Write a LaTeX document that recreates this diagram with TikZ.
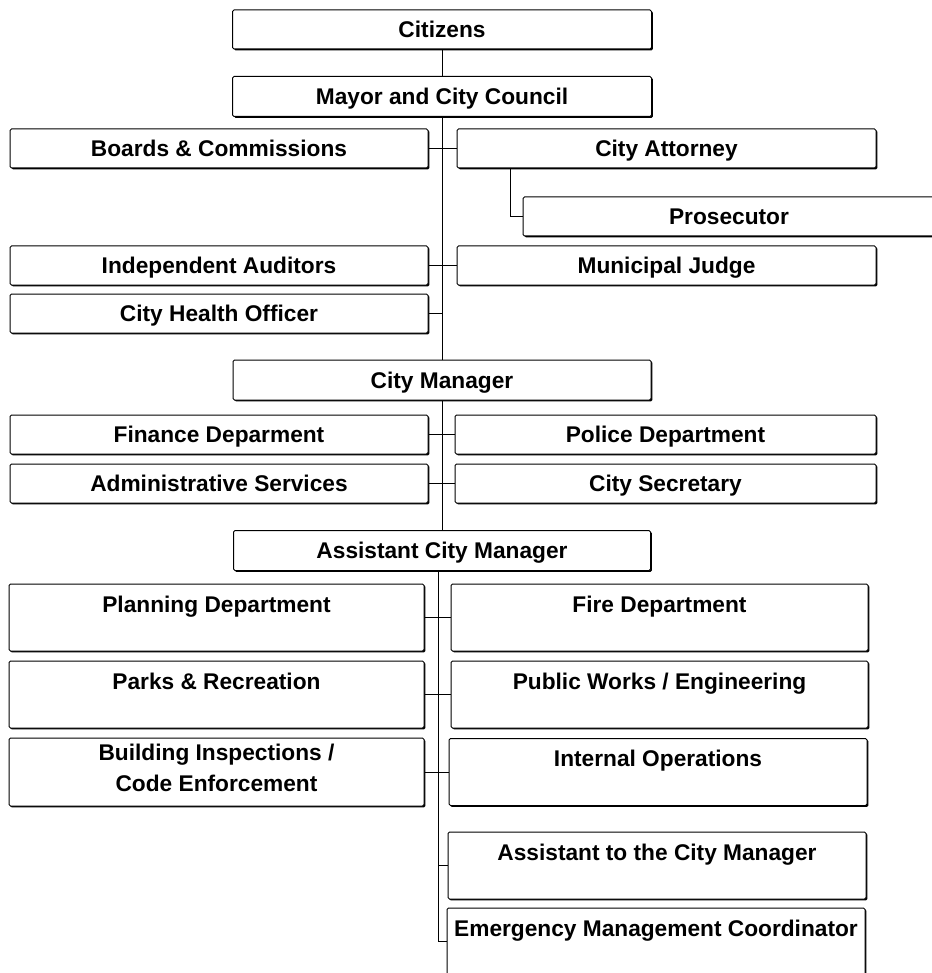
\documentclass[tikz,border=0pt]{standalone}
\usepackage{fontspec}
\setmainfont{Liberation Sans}
\usetikzlibrary{shadows}
\begin{document}
\begin{tikzpicture}[x=1pt,y=-1pt,
  box/.style={draw=black, line width=1pt, fill=white, rounded corners=1.5pt,
    minimum height=39pt, inner sep=0pt, text height=16.3pt, text depth=0pt,
    font=\fontsize{22.7}{31}\selectfont\bfseries,
    drop shadow={shadow xshift=1.4pt, shadow yshift=-1.4pt, opacity=1, fill=black}},
  tall/.style={box, minimum height=67pt, text height=16.5pt, text depth=27.5pt},
  link/.style={line width=0.9pt, draw=black}]
\useasboundingbox (0,0) rectangle (931,973);
\fill[white] (0,0) rectangle (931,973);
\coordinate (usp) at (442,0);
\coordinate (lsp) at (438,0);
\coordinate (pk) at (510,0);

\node[box, minimum width=419pt] (citizens) at (442,29.5) {Citizens};
\node[box, minimum width=419pt, minimum height=40pt] (mayor) at (442,96.5) {Mayor and City Council};
\node[box, minimum width=418pt] (boards) at (219,148.5) {Boards \& Commissions};
\node[box, minimum width=419pt] (ca) at (666.5,148.5) {City Attorney};
\node[box, minimum width=412pt] (pros) at (729,216.5) {Prosecutor};
\node[box, minimum width=418pt] (ia) at (219,265.5) {Independent Auditors};
\node[box, minimum width=419pt] (mj) at (666.5,265.5) {Municipal Judge};
\node[box, minimum width=418pt] (cho) at (219,313.5) {City Health Officer};
\node[box, minimum width=418pt, minimum height=40pt] (cm) at (442,380) {City Manager};
\node[box, minimum width=418pt] (fd) at (219,434.5) {Finance Deparment};
\node[box, minimum width=421pt] (pd) at (665.5,434.5) {Police Department};
\node[box, minimum width=418pt] (as) at (219,483.5) {Administrative Services};
\node[box, minimum width=421pt] (cs) at (665.5,483.5) {City Secretary};
\node[box, minimum width=417pt, minimum height=40pt] (acm) at (442,550.5) {Assistant City Manager};
\node[tall, minimum width=415pt] (plan) at (216.5,617.5) {Planning Department};
\node[tall, minimum width=417pt] (fire) at (659.5,617.5) {Fire Department};
\node[tall, minimum width=415pt] (parks) at (216.5,694.5) {Parks \& Recreation};
\node[tall, minimum width=417pt] (pw) at (659.5,694.5) {Public Works / Engineering};
\node[box, minimum width=415pt, minimum height=68pt, align=center, text height=, text depth=8pt] (bldg) at (216.5,772) {Building Inspections /\\Code Enforcement};
\node[tall, minimum width=418pt] (io) at (658,772) {Internal Operations};
\node[tall, minimum width=418pt] (atcm) at (657,865.5) {Assistant to the City Manager};
\node[tall, minimum width=418pt] (emc) at (656,941.5) {Emergency Management Coordinator};

\draw[link] (citizens.south) -- (mayor.north);
\draw[link] (mayor.south) -- (cm.north);
\draw[link] (cm.south) -- (acm.north);
\draw[link] (acm.south -| lsp) |- (emc.west);
\draw[link] (boards.east) -- (ca.west);
\draw[link] (ca.south -| pk) |- (pros.west);
\draw[link] (ia.east) -- (mj.west);
\draw[link] (cho.east) -- (cho.east -| usp);
\draw[link] (fd.east) -- (pd.west);
\draw[link] (as.east) -- (cs.west);
\draw[link] (plan.east) -- (fire.west);
\draw[link] (parks.east) -- (pw.west);
\draw[link] (bldg.east) -- (io.west);
\draw[link] (atcm.west) -- (atcm.west -| lsp);
\end{tikzpicture}
\end{document}
